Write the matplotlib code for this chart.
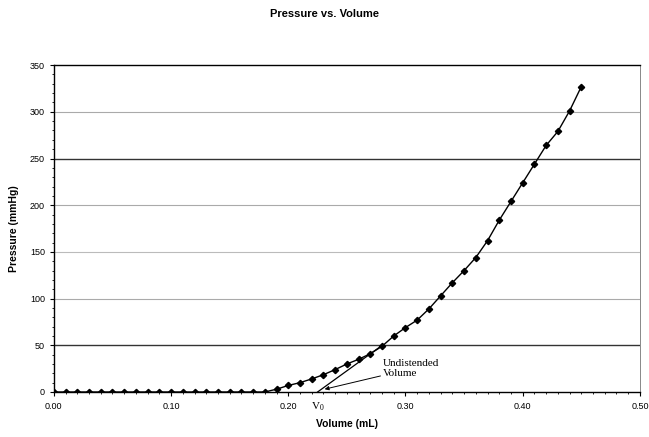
import matplotlib
matplotlib.use("Agg")
import matplotlib.pyplot as plt
from matplotlib.ticker import MultipleLocator

# data
volume = [0.00, 0.01, 0.02, 0.03, 0.04, 0.05, 0.06, 0.07, 0.08, 0.09,
          0.10, 0.11, 0.12, 0.13, 0.14, 0.15, 0.16, 0.17, 0.18, 0.19,
          0.20, 0.21, 0.22, 0.23, 0.24, 0.25, 0.26, 0.27, 0.28, 0.29,
          0.30, 0.31, 0.32, 0.33, 0.34, 0.35, 0.36, 0.37, 0.38, 0.39,
          0.40, 0.41, 0.42, 0.43, 0.44, 0.45]
pressure = [0, 0, 0, 0, 0, 0, 0, 0, 0, 0,
            0, 0, 0, 0, 0, 0, 0, 0, 0, 3,
            7, 10, 14, 18.5, 24, 30, 35, 41, 49, 60,
            69, 77, 89, 103, 117, 130, 144, 162, 184, 204,
            224, 244, 264, 279, 301, 327]

# tangent line used to find the undistended volume
tangent_x = [0.225, 0.279]
tangent_y = [0, 49]
v0 = 0.225

grid_levels = [50, 100, 150, 200, 250, 300]
grid_colors = ["#333333", "#aaaaaa", "#bbbbbb", "#aaaaaa", "#333333", "#aaaaaa"]
x_ticks = [0.0, 0.1, 0.2, 0.3, 0.4, 0.5]
x_labels = ["0.00", "0.10", "0.20", "0.30", "0.40", "0.50"]
y_ticks = [0, 50, 100, 150, 200, 250, 300, 350]

plt.rcParams["font.family"] = ["Liberation Sans", "DejaVu Sans"]

fig = plt.figure(figsize=(6.49, 4.37), dpi=100)
ax = fig.add_axes([0.083, 0.103, 0.903, 0.748])

for lvl, col in zip(grid_levels, grid_colors):
    ax.axhline(lvl, color=col, lw=1.0 if col == "#333333" else 0.8, zorder=0)

ax.plot(volume, pressure, color="black", lw=1.0, marker="D", ms=3.2, zorder=3)
ax.plot(tangent_x, tangent_y, color="black", lw=0.9, zorder=2)

ax.annotate("Undistended\nVolume", xy=(v0 + 0.006, 3), xytext=(0.281, 15),
            fontsize=8, family="Liberation Serif", ha="left", va="bottom",
            linespacing=1.1,
            arrowprops=dict(arrowstyle="-|>", color="black", lw=0.7,
                            mutation_scale=6, shrinkA=0, shrinkB=0))

ax.set_xlim(0, 0.5)
ax.set_ylim(0, 350)
ax.set_xticks(x_ticks)
ax.set_xticklabels(x_labels)
ax.set_yticks(y_ticks)
ax.xaxis.set_minor_locator(MultipleLocator(0.01))
ax.yaxis.set_minor_locator(MultipleLocator(10))
ax.tick_params(axis="both", which="major", labelsize=6.5, length=3, width=0.8)
ax.tick_params(axis="both", which="minor", length=1.5, width=0.6)
ax.tick_params(axis="x", pad=4)

ax.text(v0, -9, r"V$_{\mathregular{0}}$", transform=ax.transData,
        ha="center", va="top", fontsize=8, family="Liberation Serif")

for side in ["left", "bottom", "top"]:
    ax.spines[side].set_color("black")
    ax.spines[side].set_linewidth(1.0)
ax.spines["right"].set_color("#888888")
ax.spines["right"].set_linewidth(0.7)

ax.set_xlabel("Volume (mL)", fontsize=7.5, fontweight="bold", labelpad=6)
ax.set_ylabel("Pressure (mmHg)", fontsize=7.5, fontweight="bold", labelpad=8)
fig.suptitle("Pressure vs. Volume", fontsize=8, fontweight="bold",
             x=0.5, y=0.98)

fig.savefig("out.png", dpi=100, facecolor="white")
